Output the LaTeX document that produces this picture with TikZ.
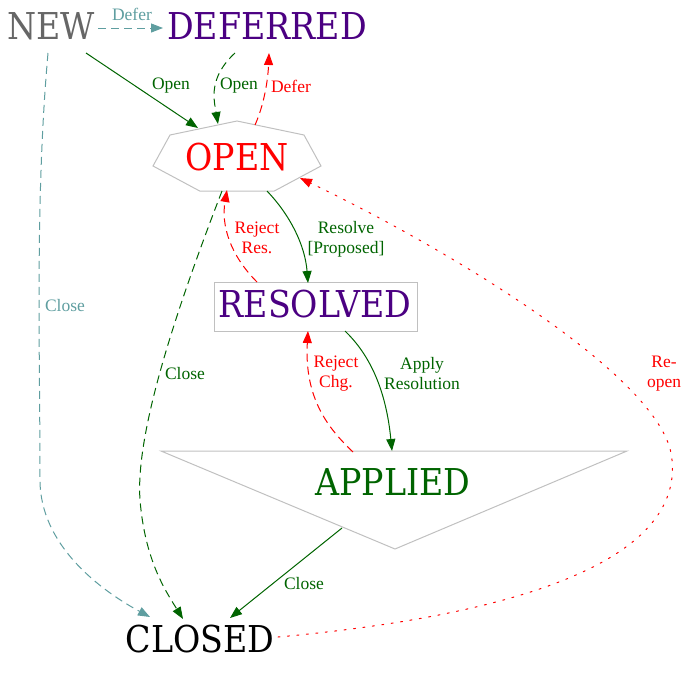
\documentclass[tikz,border=0pt]{standalone}
\usepackage{fontspec}
\setmainfont{Liberation Serif}
\newfontfamily\nfont[FakeStretch=0.9]{DejaVu Serif}
\usetikzlibrary{arrows.meta}
\definecolor{dimg}{HTML}{666666}
\definecolor{indig}{HTML}{4B0082}
\definecolor{dgreen}{HTML}{006400}
\definecolor{cadet}{HTML}{5F9EA0}
\definecolor{silv}{HTML}{C0C0C0}
\tikzset{
  stname/.style={inner sep=0pt, anchor=base, font=\nfont\fontsize{37}{40}\selectfont},
  elbl/.style={inner sep=0pt, align=center, font=\fontsize{17.5}{20}\selectfont},
  conn/.style={line width=1pt, -{Triangle[length=12pt,width=9pt]}},
  dsh/.style={dash pattern=on 8pt off 5pt},
  dts/.style={dash pattern=on 2pt off 7.5pt, line cap=round},
  outline/.style={draw=silv, line width=1pt},
}
\begin{document}
\begin{tikzpicture}[x=1pt,y=-1pt]
\useasboundingbox (0,0) rectangle (687,672);
% shapes
\draw[outline] (237,121) -- (304,135) -- (321,166) -- (274.3,191) -- (199.7,191) -- (153,166) -- (170,135) -- cycle;
\draw[outline] (214,282) rectangle (417,331);
\draw[outline] (161,451) -- (627,451) -- (395,549) -- cycle;
% state texts
\node[stname, text=dimg] (NEW) at (51,39) {NEW};
\node[stname, text=indig] (DEF) at (267,39) {DEFERRED};
\node[stname, text=red] (OPEN) at (237,170) {OPEN};
\node[stname, text=indig] (RES) at (315,317) {RESOLVED};
\node[stname, text=dgreen] (APP) at (393,495) {APPLIED};
\node[stname, text=black] (CLO) at (200,652) {CLOSED};
% connectors
\draw[conn, cadet, dsh] ([shift={(47,-11)}]NEW.base) -- ([shift={(-104,-11)}]DEF.base);
\draw[conn, dgreen] ([shift={(35,14)}]NEW.base) -- ([shift={(-39,-42)}]OPEN.base);
\draw[conn, cadet, dsh] ([shift={(-3,14)}]NEW.base) .. controls (35,200) and (40,350) .. (40,480) .. controls (40,545) and (100,590) .. ([shift={(-50,-35)}]CLO.base);
\draw[conn, dgreen, dsh] ([shift={(-32,14)}]DEF.base) .. controls (208,78) and (214,100) .. ([shift={(-19,-46)}]OPEN.base);
\draw[conn, red, dsh] ([shift={(18,-45)}]OPEN.base) .. controls (264,105) and (268,80) .. ([shift={(2,14)}]DEF.base);
\draw[conn, dgreen, dsh] ([shift={(-15,21)}]OPEN.base) .. controls (180,300) and (135,430) .. (140,500) .. controls (145,560) and (165,590) .. ([shift={(-17,-33)}]CLO.base);
\draw[conn, dgreen] ([shift={(30,21)}]OPEN.base) .. controls (290,215) and (305,245) .. ([shift={(-7,-34)}]RES.base);
\draw[conn, red, dsh] ([shift={(-58,-35)}]RES.base) .. controls (230,255) and (221,225) .. ([shift={(-10,20)}]OPEN.base);
\draw[conn, dgreen] ([shift={(30,14)}]RES.base) .. controls (370,355) and (386,390) .. ([shift={(-1,-44)}]APP.base);
\draw[conn, red, dsh] ([shift={(-40,-43)}]APP.base) .. controls (330,430) and (304,400) .. ([shift={(-7,14)}]RES.base);
\draw[conn, dgreen] ([shift={(-51,33)}]APP.base) -- ([shift={(30,-34)}]CLO.base);
\draw[conn, red, dts] ([shift={(78,-15)}]CLO.base) .. controls (520,615) and (682,560) .. (672,460) .. controls (667,380) and (450,250) .. ([shift={(63,8)}]OPEN.base);
% edge labels
\node[elbl, text=cadet] (l1) at (132,14) {Defer};
\node[elbl, text=dgreen] (l2) at (171,86) {Open};
\node[elbl, text=dgreen] (l3) at (239,86) {Open};
\node[elbl, text=red] (l4) at (291,86) {Defer};
\node[elbl, text=cadet] (l5) at (65,306) {Close};
\node[elbl, text=dgreen] (l6) at (185,374) {Close};
\node[elbl, text=red] (l7) at (257,238) {Reject\\Res.};
\node[elbl, text=dgreen] (l8) at (346,239) {Resolve\\{[}Proposed{]}};
\node[elbl, text=red] (l9) at (336,374) {Reject\\Chg.};
\node[elbl, text=dgreen] (l10) at (422,374) {Apply\\Resolution};
\node[elbl, text=dgreen] (l11) at (304,584) {Close};
\node[elbl, text=red] (l12) at (664,374) {Re-\\open};
\end{tikzpicture}
\end{document}
